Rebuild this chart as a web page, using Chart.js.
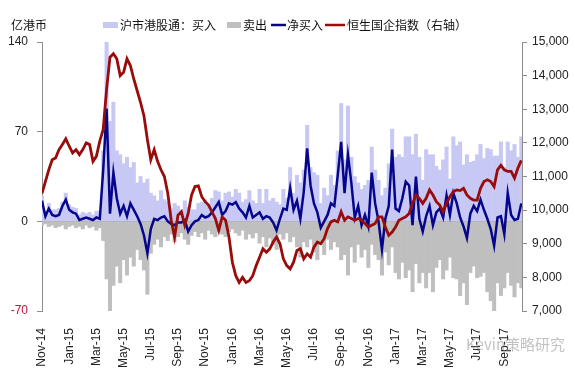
<!DOCTYPE html>
<html>
<head>
<meta charset="utf-8">
<script src="https://cdn.jsdelivr.net/npm/chart.js@4/dist/chart.umd.min.js"></script>
<style>
  html, body { margin: 0; padding: 0; background: #ffffff; }
  #wrap { width: 575px; height: 374px; }
</style>
</head>
<body>
<div id="wrap"><canvas id="c" width="575" height="374"></canvas></div>
<script>
const tickLabels = ['Nov-14','Jan-15','Mar-15','May-15','Jul-15','Sep-15','Nov-15','Jan-16','Mar-16','May-16','Jul-16','Sep-16','Nov-16','Jan-17','Mar-17','May-17','Jul-17','Sep-17'];
const STEP = 0.25; // months between observations

// 沪市港股通：买入 (亿港币)
const buy = [20,8,14,9,9,10,15,22,13,11,10,5,7,6,7,5,8,8,55,140,
  78,93,55,52,45,50,42,46,30,35,30,33,22,20,16,24,17,15,10,14,
  12,9,16,11,9,9,14,15,17,12,18,24,23,16,22,23,19,25,22,15,
  17,24,16,14,25,14,25,16,18,15,13,25,18,42,22,36,30,40,75,42,
  38,36,14,26,20,36,28,55,92,48,90,50,35,30,25,28,32,58,40,32,
  20,26,45,72,50,52,50,66,66,52,68,50,32,56,52,52,43,40,48,58,
  33,66,59,62,44,52,46,47,52,60,49,57,56,51,51,62,42,62,55,60,
  50,66];
// 卖出 (亿港币)
const sell = [-3,-2,-4,-3,-5,-4,-3,-6,-4,-3,-5,-4,-6,-3,-5,-4,-7,-5,-15,-45,
  -70,-50,-35,-48,-30,-42,-28,-35,-22,-30,-38,-57,-25,-18,-14,-20,-12,-15,-10,-16,
  -12,-9,-14,-18,-11,-8,-12,-9,-14,-7,-10,-12,-8,-10,-12,-8,-6,-9,-11,-7,
  -14,-10,-13,-9,-17,-12,-20,-13,-18,-22,-10,-14,-9,-16,-12,-20,-28,-16,-20,-14,
  -24,-30,-18,-26,-14,-22,-16,-20,-30,-26,-42,-20,-32,-18,-28,-22,-36,-18,-26,-30,
  -42,-24,-34,-20,-40,-45,-32,-44,-38,-55,-33,-48,-40,-52,-40,-55,-36,-30,-45,-38,
  -28,-44,-45,-58,-48,-65,-40,-35,-44,-43,-40,-55,-62,-70,-48,-58,-52,-40,-50,-59,
  -48,-52];
// 净买入 (亿港币)
const net = [16,4,10,5,4,5,12,17,9,7,6,1,2,3,2,1,3,2,40,88,
  6,38,18,6,12,4,14,9,4,-2,-11,-25,-6,2,1,3,4,0,-2,-3,
  -1,-1,1,-8,-3,0,1,5,3,4,7,11,15,5,8,14,13,15,10,7,
  3,12,3,5,7,2,4,3,-1,-7,2,10,9,26,9,16,2,23,57,28,
  14,7,-5,0,5,14,12,36,62,22,52,30,3,12,-3,5,-4,38,14,0,
  -22,2,12,56,10,8,18,31,28,-3,35,2,-8,4,12,-3,7,10,3,20,
  5,22,14,3,-4,-13,6,12,8,17,9,2,-6,-19,3,4,-10,22,5,1,
  2,14];
// 恒生国企指数（右轴）
const hscei = [10500,10850,11200,11500,11550,11800,11950,12120,11900,11700,11800,11650,11800,12000,11950,11450,11600,12050,12400,13600,
  14550,14650,14500,14000,14100,14500,14300,13900,13550,13200,12800,12100,11500,11800,11450,11200,11000,10500,9700,9200,
  9850,9950,9550,9900,10450,10700,10720,10400,10250,10150,9950,9750,9400,9800,9700,9200,8450,8050,7850,8000,
  7850,7900,8050,8350,8600,8850,8750,8850,9050,9200,9000,8550,8350,8250,8450,8800,8850,8550,8700,8600,
  8900,9050,9000,9150,9450,9650,9700,9650,9950,9700,9800,9750,9700,9750,9700,9600,9500,9550,9600,9800,
  9800,9500,9250,9350,9500,9700,9750,9800,9900,10200,10450,10350,10200,10350,10600,10450,10250,10150,9950,10200,
  10400,10550,10600,10580,10650,10450,10350,10300,10300,10650,10850,10900,10850,10700,11200,11330,11200,11150,11150,10950,
  11250,11480];

const toXY = arr => arr.map((v, i) => ({ x: i * STEP, y: v }));

const NUM_FONT = 'Liberation Sans, Arial, sans-serif';
const CJK_FONT = '"Noto Sans CJK SC", "Noto Sans", sans-serif';

const COL_BUY = '#c8c8f5';
const COL_SELL = '#bfbfbf';
const COL_NET = '#06068c';
const COL_IDX = '#980c0c';

const overlay = {
  id: 'overlay',
  afterDraw(chart) {
    const ctx = chart.ctx;
    ctx.save();
    ctx.textBaseline = 'middle';
    ctx.fillStyle = '#111';
    ctx.font = '12px ' + CJK_FONT;
    ctx.textAlign = 'left';
    ctx.fillText('亿港币', 11, 25);
    // legend
    const y = 25;
    ctx.fillStyle = COL_BUY; ctx.fillRect(103, y - 3, 15, 6);
    ctx.fillStyle = '#111'; ctx.fillText('沪市港股通：买入', 120, y);
    ctx.fillStyle = COL_SELL; ctx.fillRect(227, y - 3, 14, 6);
    ctx.fillStyle = '#111'; ctx.fillText('卖出', 243, y);
    ctx.lineWidth = 2.5;
    ctx.strokeStyle = COL_NET; ctx.beginPath(); ctx.moveTo(271, y); ctx.lineTo(286, y); ctx.stroke();
    ctx.fillStyle = '#111'; ctx.fillText('净买入', 287, y);
    ctx.strokeStyle = COL_IDX; ctx.beginPath(); ctx.moveTo(325, y); ctx.lineTo(345, y); ctx.stroke();
    ctx.fillStyle = '#111'; ctx.fillText('恒生国企指数（右轴）', 347, y);
    // watermark
    ctx.font = '15px ' + CJK_FONT;
    ctx.fillStyle = 'rgba(120,120,120,0.45)';
    ctx.fillText('Kevin策略研究', 466, 344);
    ctx.restore();
  }
};

new Chart(document.getElementById('c'), {
  data: {
    datasets: [
      { type: 'line', label: '恒生国企指数（右轴）', data: toXY(hscei), yAxisID: 'y2',
        borderColor: COL_IDX, borderWidth: 2.8, pointRadius: 0, tension: 0, order: 0 },
      { type: 'line', label: '净买入', data: toXY(net), yAxisID: 'y',
        borderColor: COL_NET, borderWidth: 2.5, pointRadius: 0, tension: 0, order: 1 },
      { type: 'bar', label: '卖出', data: toXY(sell), yAxisID: 'y', grouped: false,
        backgroundColor: COL_SELL, barPercentage: 1, categoryPercentage: 1, borderWidth: 0, order: 2 },
      { type: 'bar', label: '沪市港股通：买入', data: toXY(buy), yAxisID: 'y', grouped: false,
        backgroundColor: COL_BUY, barPercentage: 1, categoryPercentage: 1, borderWidth: 0, order: 3 }
    ]
  },
  options: {
    responsive: false,
    animation: false,
    devicePixelRatio: 1,
    layout: { padding: { top: 42, left: 0, right: 0, bottom: 0 } },
    plugins: { legend: { display: false }, tooltip: { enabled: false } },
    scales: {
      x: {
        type: 'linear', min: 0, max: 35.3, offset: false,
        grid: { display: false, offset: false }, border: { display: false },
        ticks: {
          stepSize: 2, autoSkip: false, includeBounds: false,
          minRotation: 90, maxRotation: 90, padding: 9, color: '#222',
          font: { family: NUM_FONT, size: 12 },
          callback: v => tickLabels[v / 2] ?? ''
        },
        afterFit: s => { s.height = 63; }
      },
      y: {
        position: 'left', min: -70, max: 140,
        ticks: {
          stepSize: 70, padding: 9,
          color: c => (c.tick && c.tick.value < 0) ? '#c0143c' : '#222',
          font: { family: NUM_FONT, size: 12 }
        },
        grid: {
          color: c => (c.tick && c.tick.value === 0) ? '#a6a6a6' : 'rgba(0,0,0,0)',
          tickColor: '#8c8c8c', tickLength: 5, lineWidth: 1
        },
        border: { display: true, color: '#8c8c8c' },
        afterFit: s => { s.width = 42; }
      },
      y2: {
        position: 'right', min: 7000, max: 15000,
        ticks: {
          stepSize: 1000, padding: 5, color: '#222',
          font: { family: NUM_FONT, size: 12 },
          callback: v => v.toLocaleString('en-US')
        },
        grid: { drawOnChartArea: false, tickColor: '#8c8c8c', tickLength: 5 },
        border: { display: true, color: '#8c8c8c' },
        afterFit: s => { s.width = 53; }
      }
    }
  },
  plugins: [overlay]
});
</script>
</body>
</html>
